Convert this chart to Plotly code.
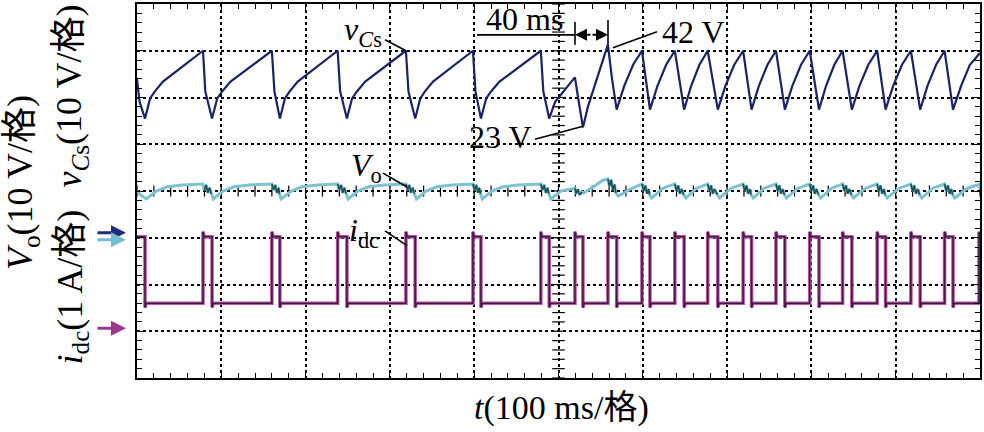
import plotly.graph_objects as go

# ---------------- data (time in ms, values in V / A) ----------------
vcs_t = [0, 3, 9.5,
         15.5, 21.2, 30.8, 50.8, 68.7, 78.3, 81, 89,
         95.2, 101, 111, 131.6, 150.1, 160, 163, 169.5,
         175.5, 181.1, 190.7, 210.6, 228.4, 238, 241, 249,
         255.1, 260.9, 270.7, 291, 309.2, 319, 322, 330,
         336, 341.6, 351.2, 371.1, 388.9, 398.5, 401.5, 408,
         414.2, 420, 430, 450.6, 469.1, 479, 482, 489,
         496, 508, 519.5, 524, 529,
         535, 545, 553, 558.6, 563.5, 569,
         578, 588.5, 599, 603.5, 608.5,
         617.4, 627.7, 638, 643.5, 649,
         657.4, 667.2, 677, 683, 689,
         698, 708.5, 719, 724, 729,
         737.7, 747.9, 758, 763, 768.5,
         777.4, 787.7, 798, 803.5, 809,
         817.4, 827.2, 837, 842.5, 848,
         857, 867.5, 878, 883, 888,
         897, 907.5, 918, 923.5, 929,
         937.7, 947.9, 958, 963, 968,
         977.6, 988, 1000]
vcs_v = [33.0, 28.1, 24.5,
         28.8, 30.3, 32.4, 35.2, 37.7, 39.0, 30.3, 24.5,
         28.8, 30.3, 32.4, 35.2, 37.7, 39.0, 30.3, 24.5,
         28.8, 30.3, 32.4, 35.2, 37.7, 39.0, 30.3, 24.5,
         28.8, 30.3, 32.4, 35.2, 37.7, 39.0, 30.3, 24.5,
         28.8, 30.3, 32.4, 35.2, 37.7, 39.0, 30.3, 24.5,
         28.8, 30.3, 32.4, 35.2, 37.7, 39.0, 30.3, 24.5,
         28.1, 30.7, 33.3, 28.1, 22.6,
         27.1, 32.8, 37.1, 40.3, 33.0, 26.4,
         31.5, 36.0, 39.0, 33.0, 26.4,
         31.5, 36.0, 39.0, 33.0, 26.4,
         31.5, 36.0, 39.0, 33.0, 26.4,
         31.5, 36.0, 39.0, 33.0, 26.4,
         31.5, 36.0, 39.0, 33.0, 26.4,
         31.5, 36.0, 39.0, 33.0, 26.4,
         31.5, 36.0, 39.0, 33.0, 26.4,
         31.5, 36.0, 39.0, 33.0, 26.4,
         31.5, 36.0, 39.0, 33.0, 26.4,
         31.5, 36.0, 39.0, 33.0, 26.4,
         31.5, 36.0, 38.5]

vo_t = [0, 4, 11, 23, 36, 54, 78, 80, 82, 84, 86, 88,
        90.5, 102, 115, 133, 160, 162, 164, 166, 168, 169,
        171, 183, 196, 214, 238, 240, 242, 244, 246, 248,
        250.5, 262, 275, 293, 319, 321, 323, 325, 327, 329,
        331.5, 343, 356, 374, 398.5, 400.5, 402.5, 404.5, 406, 407.5,
        409.5, 421, 434, 452, 479, 481, 483, 485, 487, 488.5,
        491, 503, 517, 519.5, 521, 523, 525, 528, 530, 540, 551.6, 558.6, 560.5, 562.5, 564.5, 566.5, 568,
        571, 585, 599, 601, 603, 605, 607, 608, 610.5, 624,
        638, 640, 642, 644, 646, 648.5, 651, 664,
        677, 679, 681, 683, 685, 688.5, 691, 705,
        719, 721, 723, 725, 727, 728.5, 731, 744,
        758, 760, 762, 764, 766, 768, 770.5, 784,
        798, 800, 802, 804, 806, 808.5, 811, 824,
        837, 839, 841, 843, 845, 847.5, 850, 864,
        878, 880, 882, 884, 886, 887.5, 890, 904,
        918, 920, 922, 924, 926, 928.5, 931, 944,
        958, 960, 962, 964, 966, 967.5, 970, 985,
        998.8, 1000]
vo_v = [10.6, 9.8, 8.9, 10.6, 11.5, 11.9, 12.1, 10.8, 11.9, 10.2, 11.3, 10.0,
        8.9, 10.6, 11.5, 11.9, 12.1, 10.8, 11.9, 10.2, 11.3, 10.0,
        8.9, 10.6, 11.5, 11.9, 12.1, 10.8, 11.9, 10.2, 11.3, 10.0,
        8.9, 10.6, 11.5, 11.9, 12.1, 10.8, 11.9, 10.2, 11.3, 10.0,
        8.9, 10.6, 11.5, 11.9, 12.1, 10.8, 11.9, 10.2, 11.3, 10.0,
        8.9, 10.6, 11.5, 11.9, 12.1, 10.8, 11.9, 10.2, 11.3, 10.0,
        8.9, 10.6, 11.2, 11.2, 10.0, 11.0, 9.8, 10.4, 10.2, 11.3, 12.8, 13.2, 11.6, 13.0, 10.8, 12.0, 10.2,
        9.5, 11.0, 12.1, 10.6, 11.8, 10.0, 11.0, 9.8, 9.1, 11.2,
        12.1, 10.6, 11.8, 10.0, 11.0, 9.8, 9.1, 11.2,
        12.1, 10.6, 11.8, 10.0, 11.0, 9.8, 9.1, 11.2,
        12.1, 10.6, 11.8, 10.0, 11.0, 9.8, 9.1, 11.2,
        12.1, 10.6, 11.8, 10.0, 11.0, 9.8, 9.1, 11.2,
        12.1, 10.6, 11.8, 10.0, 11.0, 9.8, 9.1, 11.2,
        12.1, 10.6, 11.8, 10.0, 11.0, 9.8, 9.1, 11.2,
        12.1, 10.6, 11.8, 10.0, 11.0, 9.8, 9.1, 11.2,
        12.1, 10.6, 11.8, 10.0, 11.0, 9.8, 9.1, 11.2,
        12.1, 10.6, 11.8, 10.0, 11.0, 9.8, 9.1, 11.2,
        12.0, 11.0]

# idc switching edges (ms) and levels (A)
pulse_on = [78.3, 160, 238, 319, 398.5, 479, 519.5, 558.6, 599, 638, 677,
            719, 758, 798, 837, 878, 918, 958]
pulse_off = [89, 169.5, 249, 330, 408, 489, 529, 569, 608.5, 649, 689,
             729, 768.5, 809, 848, 888, 929, 968]
first_off = 9.5
last_on = 998.8
i_low, i_high, i_spike, i_under = 0.54, 1.96, 2.07, 0.45

# channel ground offsets (divisions) and scales
OFF_VCS, OFF_VO, OFF_IDC = 3.1, 2.94, 1.06
SC_V, SC_I = 10.0, 1.0

# ---------------- build traces ----------------
vcs_y = [OFF_VCS + v / SC_V for v in vcs_v]
vo_y = [OFF_VO + v / SC_V for v in vo_v]

idc_t = [0, first_off, first_off, first_off + 1.5]
idc_i = [i_high, i_high, i_under, i_low]
for a, b in zip(pulse_on, pulse_off):
    idc_t += [a, a, a + 1.5, b, b, b + 1.5]
    idc_i += [i_low, i_spike, i_high, i_high, i_under, i_low]
idc_t += [last_on, last_on, 1000]
idc_i += [i_low, i_spike, i_high]
idc_y = [OFF_IDC + i / SC_I for i in idc_i]

# dark noisy bursts of Vo during each idc pulse
burst_x, burst_y = [], []
for a, b in zip(pulse_on, pulse_off):
    for t, y in zip(vo_t, vo_y):
        if a - 0.1 <= t <= b + 0.1:
            burst_x.append(t)
            burst_y.append(y)
    burst_x.append(None)
    burst_y.append(None)

fig = go.Figure()

# graticule centre ticks
gx = [k * 20 for k in range(51)]
gy = [k * 0.2 for k in range(41)]
fig.add_trace(go.Scatter(x=gx, y=[4] * len(gx), mode="markers", hoverinfo="skip",
                         marker=dict(symbol="line-ns", size=8, line=dict(color="black", width=1.2))))
fig.add_trace(go.Scatter(x=[500] * len(gy), y=gy, mode="markers", hoverinfo="skip",
                         marker=dict(symbol="line-ew", size=9, line=dict(color="black", width=1.2))))

fig.add_trace(go.Scatter(x=idc_t, y=idc_y, mode="lines",
                         line=dict(color="#b85aa8", width=3.6), hoverinfo="skip"))
fig.add_trace(go.Scatter(x=idc_t, y=idc_y, mode="lines",
                         line=dict(color="#4a1745", width=1.6), hoverinfo="skip"))
fig.add_trace(go.Scatter(x=vo_t, y=vo_y, mode="lines",
                         line=dict(color="#7cc2d2", width=3), hoverinfo="skip"))
fig.add_trace(go.Scatter(x=burst_x, y=burst_y, mode="lines",
                         line=dict(color="#1d4f55", width=1.6), hoverinfo="skip"))
fig.add_trace(go.Scatter(x=vcs_t, y=vcs_y, mode="lines",
                         line=dict(color="#1b2268", width=2.2), hoverinfo="skip"))

# ---------------- layout ----------------
L, R, T, B = 137, 980, 2, 378
W, H = 984, 432


def px(X):
    return (X - L) / (R - L)


def py(Y):
    return (B - Y) / (B - T)


FONT = "Liberation Serif, Times New Roman, Noto Sans CJK SC, serif"
axis_common = dict(showgrid=True, gridcolor="black", griddash="dot", gridwidth=1.6,
                   showline=True, linecolor="black", linewidth=2, mirror="allticks",
                   ticks="inside", ticklen=7, tickcolor="black", tickwidth=1.2,
                   showticklabels=False, zeroline=False, fixedrange=True)
fig.update_layout(
    width=W, height=H, margin=dict(l=L, r=W - R, t=T, b=H - B),
    paper_bgcolor="white", plot_bgcolor="white", showlegend=False,
    xaxis=dict(range=[0, 1000], dtick=100, tick0=0,
               minor=dict(dtick=20, ticks="inside", ticklen=5, tickcolor="black", tickwidth=1.2, showgrid=False),
               **axis_common),
    yaxis=dict(range=[0, 8], dtick=1, tick0=0,
               minor=dict(dtick=0.2, ticks="inside", ticklen=5, tickcolor="black", tickwidth=1.2, showgrid=False),
               **axis_common),
    font=dict(family=FONT, color="black", size=32),
)

ann = []


def text(X, Y, s, size=32, angle=0):
    ann.append(dict(x=px(X), y=py(Y), xref="paper", yref="paper", text=s, showarrow=False,
                    xanchor="center", yanchor="middle", textangle=angle,
                    font=dict(family=FONT, size=size, color="black")))


text(363, 30, "<i>v</i><sub><i>C</i>s</sub>")
text(524, 17, "40 ms")
text(693, 30, "42 V")
text(500, 136, "23 V")
text(366, 166, "<i>V</i><sub>o</sub>")
text(364, 232, "<i>i</i><sub>dc</sub>")
text(561, 408, "<i>t</i>(100 ms/格)", size=34)
text(22, 182, "<i>V</i><sub>o</sub>(10 V/格)", size=36, angle=-90)
text(72, 95, "<i>v</i><sub><i>C</i>s</sub>(10 V/格)", size=36, angle=-90)
text(72, 287, "<i>i</i><sub>dc</sub>(1 A/格)", size=36, angle=-90)


def arrow(X, Y, ax, color, width=3, head=2, size=1.0):
    ann.append(dict(x=px(X), y=py(Y), xref="paper", yref="paper", text="", showarrow=True,
                    ax=ax, ay=0, arrowhead=head, arrowsize=size, arrowwidth=width,
                    arrowcolor=color))


arrow(126, 232, -30, "#1f2c7c")
arrow(126, 239, -30, "#72bcd4")
arrow(126, 328, -30, "#99388c")
arrow(575, 33, 17, "black", width=2, size=1.2)
arrow(608, 33, -17, "black", width=2, size=1.2)

shapes = []


def seg(x0, y0, x1, y1, w=1.6):
    shapes.append(dict(type="line", xref="paper", yref="paper",
                       x0=px(x0), y0=py(y0), x1=px(x1), y1=py(y1),
                       line=dict(color="black", width=w)))


seg(385, 38, 406, 49)
seg(477, 33, 575, 33)
seg(575, 20, 575, 43)
seg(608, 18, 608, 43)
seg(613, 46, 657, 30)
seg(535, 138, 583, 125)
seg(383, 172, 407, 186)
seg(385, 230, 407, 245)

fig.update_layout(annotations=ann, shapes=shapes)
fig.write_html("out.html", config={"displayModeBar": False},
               post_script="document.body.style.margin='0';document.body.style.overflow='hidden';")
